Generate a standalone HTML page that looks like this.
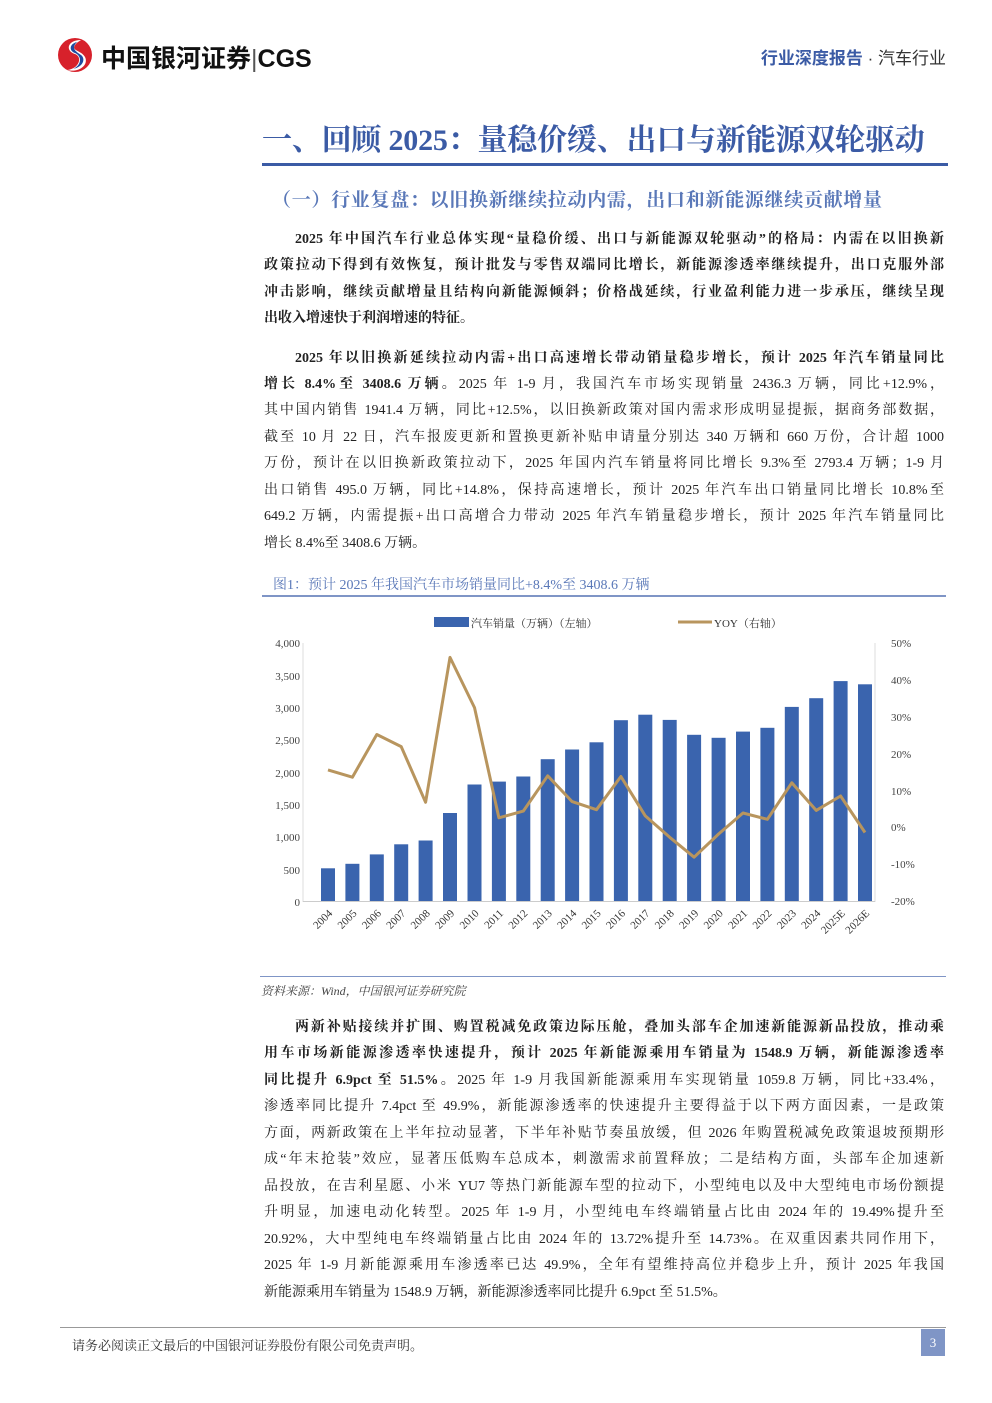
<!DOCTYPE html>
<html><head><meta charset="utf-8">
<style>
*{margin:0;padding:0;box-sizing:border-box}
body{width:992px;height:1403px;background:#fff;position:relative;overflow:hidden;font-family:"Liberation Serif","Noto Serif CJK SC",serif;color:#222}
.a{position:absolute;white-space:nowrap}
.l{position:absolute;left:264px;width:680px;font-size:14px;line-height:20px;text-align:justify;text-align-last:justify;white-space:nowrap}
.l.e{text-align-last:left}
.b{font-weight:bold}
</style></head><body>
<svg class="a" style="left:55px;top:37px" width="40" height="36" viewBox="0 0 40 36">
<ellipse cx="20" cy="18" rx="17" ry="17" fill="#d7212b"/>
<path d="M26 3 C12 3 10 14 20 17 C28 20 24 32 12 33 C24 36 34 28 30 20 C26 13 16 14 20 8 C22 5 25 4 26 3Z" fill="#fff"/>
<path d="M22 5 C14 7 14 14 20 16 C27 19 27 28 18 32 C28 30 31 22 26 18 C20 14 16 11 22 5Z" fill="#1f4aa0"/>
</svg>
<div class="a" style="left:101px;top:39px;font:bold 25px 'Liberation Sans','Noto Sans CJK SC',sans-serif;color:#111">中国银河证券<span style="font-weight:normal;color:#555">|</span>CGS</div>
<div class="a" style="right:46px;top:44px;font-size:17px;font-family:'Liberation Sans','Noto Sans CJK SC',sans-serif;color:#3b5ba5"><span style="font-weight:bold">行业深度报告</span> <span style="color:#333">·&nbsp;汽车行业</span></div>
<div class="a" style="left:262px;top:115px;font-size:30px;letter-spacing:-0.2px;font-weight:bold;color:#3b5ba5;font-family:'Liberation Serif','Noto Serif CJK SC',serif">一、回顾 2025：量稳价缓、出口与新能源双轮驱动</div>
<div class="a" style="left:262px;top:163px;width:686px;height:3px;background:#3b5ba5"></div>
<div class="a" style="left:272px;top:185px;font-size:19px;letter-spacing:0.7px;font-weight:bold;color:#5a78b8">（一）行业复盘：以旧换新继续拉动内需，出口和新能源继续贡献增量</div>
<div class="l b" style="top:230px;left:295px;width:649px">2025 年中国汽车行业总体实现“量稳价缓、出口与新能源双轮驱动”的格局：内需在以旧换新</div>
<div class="l b" style="top:256px">政策拉动下得到有效恢复，预计批发与零售双端同比增长，新能源渗透率继续提升，出口克服外部</div>
<div class="l b" style="top:283px">冲击影响，继续贡献增量且结构向新能源倾斜；价格战延续，行业盈利能力进一步承压，继续呈现</div>
<div class="l b e" style="top:309px">出收入增速快于利润增速的特征。</div>
<div class="l b" style="top:349px;left:295px;width:649px">2025 年以旧换新延续拉动内需+出口高速增长带动销量稳步增长，预计 2025 年汽车销量同比</div>
<div class="l" style="top:375px"><b>增长 8.4%至 3408.6 万辆。</b>2025 年 1-9 月，我国汽车市场实现销量 2436.3 万辆，同比+12.9%，</div>
<div class="l" style="top:401px">其中国内销售 1941.4 万辆，同比+12.5%，以旧换新政策对国内需求形成明显提振，据商务部数据，</div>
<div class="l" style="top:428px">截至 10 月 22 日，汽车报废更新和置换更新补贴申请量分别达 340 万辆和 660 万份，合计超 1000</div>
<div class="l" style="top:454px">万份，预计在以旧换新政策拉动下，2025 年国内汽车销量将同比增长 9.3%至 2793.4 万辆；1-9 月</div>
<div class="l" style="top:481px">出口销售 495.0 万辆，同比+14.8%，保持高速增长，预计 2025 年汽车出口销量同比增长 10.8%至</div>
<div class="l" style="top:507px">649.2 万辆，内需提振+出口高增合力带动 2025 年汽车销量稳步增长，预计 2025 年汽车销量同比</div>
<div class="l e" style="top:534px">增长 8.4%至 3408.6 万辆。</div>
<div class="a" style="left:273px;top:574px;font-size:14px;color:#5a78b8">图1：预计 2025 年我国汽车市场销量同比+8.4%至 3408.6 万辆</div>
<div class="a" style="left:262px;top:595px;width:684px;height:2px;background:#7f95c6"></div>
<svg class="a" style="left:0;top:0" width="992" height="1000" font-family="Liberation Serif,Noto Serif CJK SC,serif">
<rect x="434" y="617" width="35" height="10" fill="#3a64ae"/>
<text x="471" y="627" font-size="11" fill="#333">汽车销量（万辆）（左轴）</text>
<line x1="678" y1="622" x2="712" y2="622" stroke="#b8955e" stroke-width="3"/>
<text x="714" y="627" font-size="11" fill="#333">YOY（右轴）</text>
<g font-size="11" fill="#444" text-anchor="end">
<text x="300" y="647">4,000</text><text x="300" y="680">3,500</text><text x="300" y="712">3,000</text><text x="300" y="744">2,500</text><text x="300" y="777">2,000</text><text x="300" y="809">1,500</text><text x="300" y="841">1,000</text><text x="300" y="874">500</text><text x="300" y="906">0</text>
</g>
<g font-size="11" fill="#444">
<text x="891" y="647">50%</text><text x="891" y="684">40%</text><text x="891" y="721">30%</text><text x="891" y="758">20%</text><text x="891" y="795">10%</text><text x="891" y="831">0%</text><text x="891" y="868">-10%</text><text x="891" y="905">-20%</text>
</g>
<line x1="303" y1="643" x2="303" y2="902" stroke="#ddd"/>
<line x1="875" y1="643" x2="875" y2="902" stroke="#ddd"/>
<line x1="303" y1="901.5" x2="875" y2="901.5" stroke="#ccc"/>
<g fill="#3a64ae">
<rect x="321" y="868.3" width="14" height="32.7"/><rect x="345.4" y="863.8" width="14" height="37.2"/><rect x="369.8" y="854.4" width="14" height="46.6"/><rect x="394.2" y="844.3" width="14" height="56.7"/><rect x="418.6" y="840.5" width="14" height="60.5"/><rect x="443" y="813" width="14" height="88"/><rect x="467.5" y="784.5" width="14" height="116.5"/><rect x="491.9" y="781.6" width="14" height="119.4"/><rect x="516.3" y="776.5" width="14" height="124.5"/><rect x="540.7" y="759.2" width="14" height="141.8"/><rect x="565.1" y="749.5" width="14" height="151.5"/><rect x="589.5" y="742.3" width="14" height="158.7"/><rect x="613.9" y="720.2" width="14" height="180.8"/><rect x="638.3" y="714.7" width="14" height="186.3"/><rect x="662.7" y="719.9" width="14" height="181.1"/><rect x="687.1" y="734.8" width="14" height="166.2"/><rect x="711.6" y="737.8" width="14" height="163.2"/><rect x="736" y="731.6" width="14" height="169.4"/><rect x="760.4" y="727.8" width="14" height="173.2"/><rect x="784.8" y="706.9" width="14" height="194.1"/><rect x="809.2" y="698.2" width="14" height="202.8"/><rect x="833.6" y="681.1" width="14" height="219.9"/><rect x="858" y="684.3" width="14" height="216.7"/>
</g>
<polyline fill="none" stroke="#b8955e" stroke-width="3" stroke-linejoin="round" points="328,769.9 352.4,777.2 376.8,734.5 401.2,746.6 425.6,802.3 450,657.4 474.5,707.6 498.9,817.8 523.3,811.1 547.7,775.8 572.1,801.6 596.5,809.7 620.9,776.5 645.3,815.9 669.7,837.3 694.1,857.2 718.6,834 743,813 767.4,819.3 791.8,782.8 816.2,810.4 840.6,796 865,832.5"/>
<g font-size="11" fill="#333" text-anchor="end">
<text transform="translate(333,914) rotate(-45)">2004</text><text transform="translate(357.4,914) rotate(-45)">2005</text><text transform="translate(381.8,914) rotate(-45)">2006</text><text transform="translate(406.2,914) rotate(-45)">2007</text><text transform="translate(430.6,914) rotate(-45)">2008</text><text transform="translate(455,914) rotate(-45)">2009</text><text transform="translate(479.5,914) rotate(-45)">2010</text><text transform="translate(503.9,914) rotate(-45)">2011</text><text transform="translate(528.3,914) rotate(-45)">2012</text><text transform="translate(552.7,914) rotate(-45)">2013</text><text transform="translate(577.1,914) rotate(-45)">2014</text><text transform="translate(601.5,914) rotate(-45)">2015</text><text transform="translate(625.9,914) rotate(-45)">2016</text><text transform="translate(650.3,914) rotate(-45)">2017</text><text transform="translate(674.7,914) rotate(-45)">2018</text><text transform="translate(699.1,914) rotate(-45)">2019</text><text transform="translate(723.6,914) rotate(-45)">2020</text><text transform="translate(748,914) rotate(-45)">2021</text><text transform="translate(772.4,914) rotate(-45)">2022</text><text transform="translate(796.8,914) rotate(-45)">2023</text><text transform="translate(821.2,914) rotate(-45)">2024</text><text transform="translate(845.6,914) rotate(-45)">2025E</text><text transform="translate(870,914) rotate(-45)">2026E</text>
</g>
</svg>
<div class="a" style="left:260px;top:976px;width:686px;height:1px;background:#7f95c6"></div>
<div class="a" style="left:261px;top:982px;font-size:12px;font-style:italic;color:#444">资料来源：Wind，中国银河证券研究院</div>
<div class="l b" style="top:1018px;left:295px;width:649px">两新补贴接续并扩围、购置税减免政策边际压舱，叠加头部车企加速新能源新品投放，推动乘</div>
<div class="l b" style="top:1044px">用车市场新能源渗透率快速提升，预计 2025 年新能源乘用车销量为 1548.9 万辆，新能源渗透率</div>
<div class="l" style="top:1071px"><b>同比提升 6.9pct 至 51.5%。</b>2025 年 1-9 月我国新能源乘用车实现销量 1059.8 万辆，同比+33.4%，</div>
<div class="l" style="top:1097px">渗透率同比提升 7.4pct 至 49.9%，新能源渗透率的快速提升主要得益于以下两方面因素，一是政策</div>
<div class="l" style="top:1124px">方面，两新政策在上半年拉动显著，下半年补贴节奏虽放缓，但 2026 年购置税减免政策退坡预期形</div>
<div class="l" style="top:1150px">成“年末抢装”效应，显著压低购车总成本，刺激需求前置释放；二是结构方面，头部车企加速新</div>
<div class="l" style="top:1177px">品投放，在吉利星愿、小米 YU7 等热门新能源车型的拉动下，小型纯电以及中大型纯电市场份额提</div>
<div class="l" style="top:1203px">升明显，加速电动化转型。2025 年 1-9 月，小型纯电车终端销量占比由 2024 年的 19.49%提升至</div>
<div class="l" style="top:1230px">20.92%，大中型纯电车终端销量占比由 2024 年的 13.72%提升至 14.73%。在双重因素共同作用下，</div>
<div class="l" style="top:1256px">2025 年 1-9 月新能源乘用车渗透率已达 49.9%，全年有望维持高位并稳步上升，预计 2025 年我国</div>
<div class="l e" style="top:1283px">新能源乘用车销量为 1548.9 万辆，新能源渗透率同比提升 6.9pct 至 51.5%。</div>
<div class="a" style="left:60px;top:1327px;width:886px;height:1px;background:#999"></div>
<div class="a" style="left:72px;top:1335px;font-size:13px;color:#333">请务必阅读正文最后的中国银河证券股份有限公司免责声明。</div>
<div class="a" style="left:921px;top:1329px;width:24px;height:27px;background:#7f95c6;color:#fff;font-size:13px;text-align:center;line-height:27px">3</div>
</body></html>
